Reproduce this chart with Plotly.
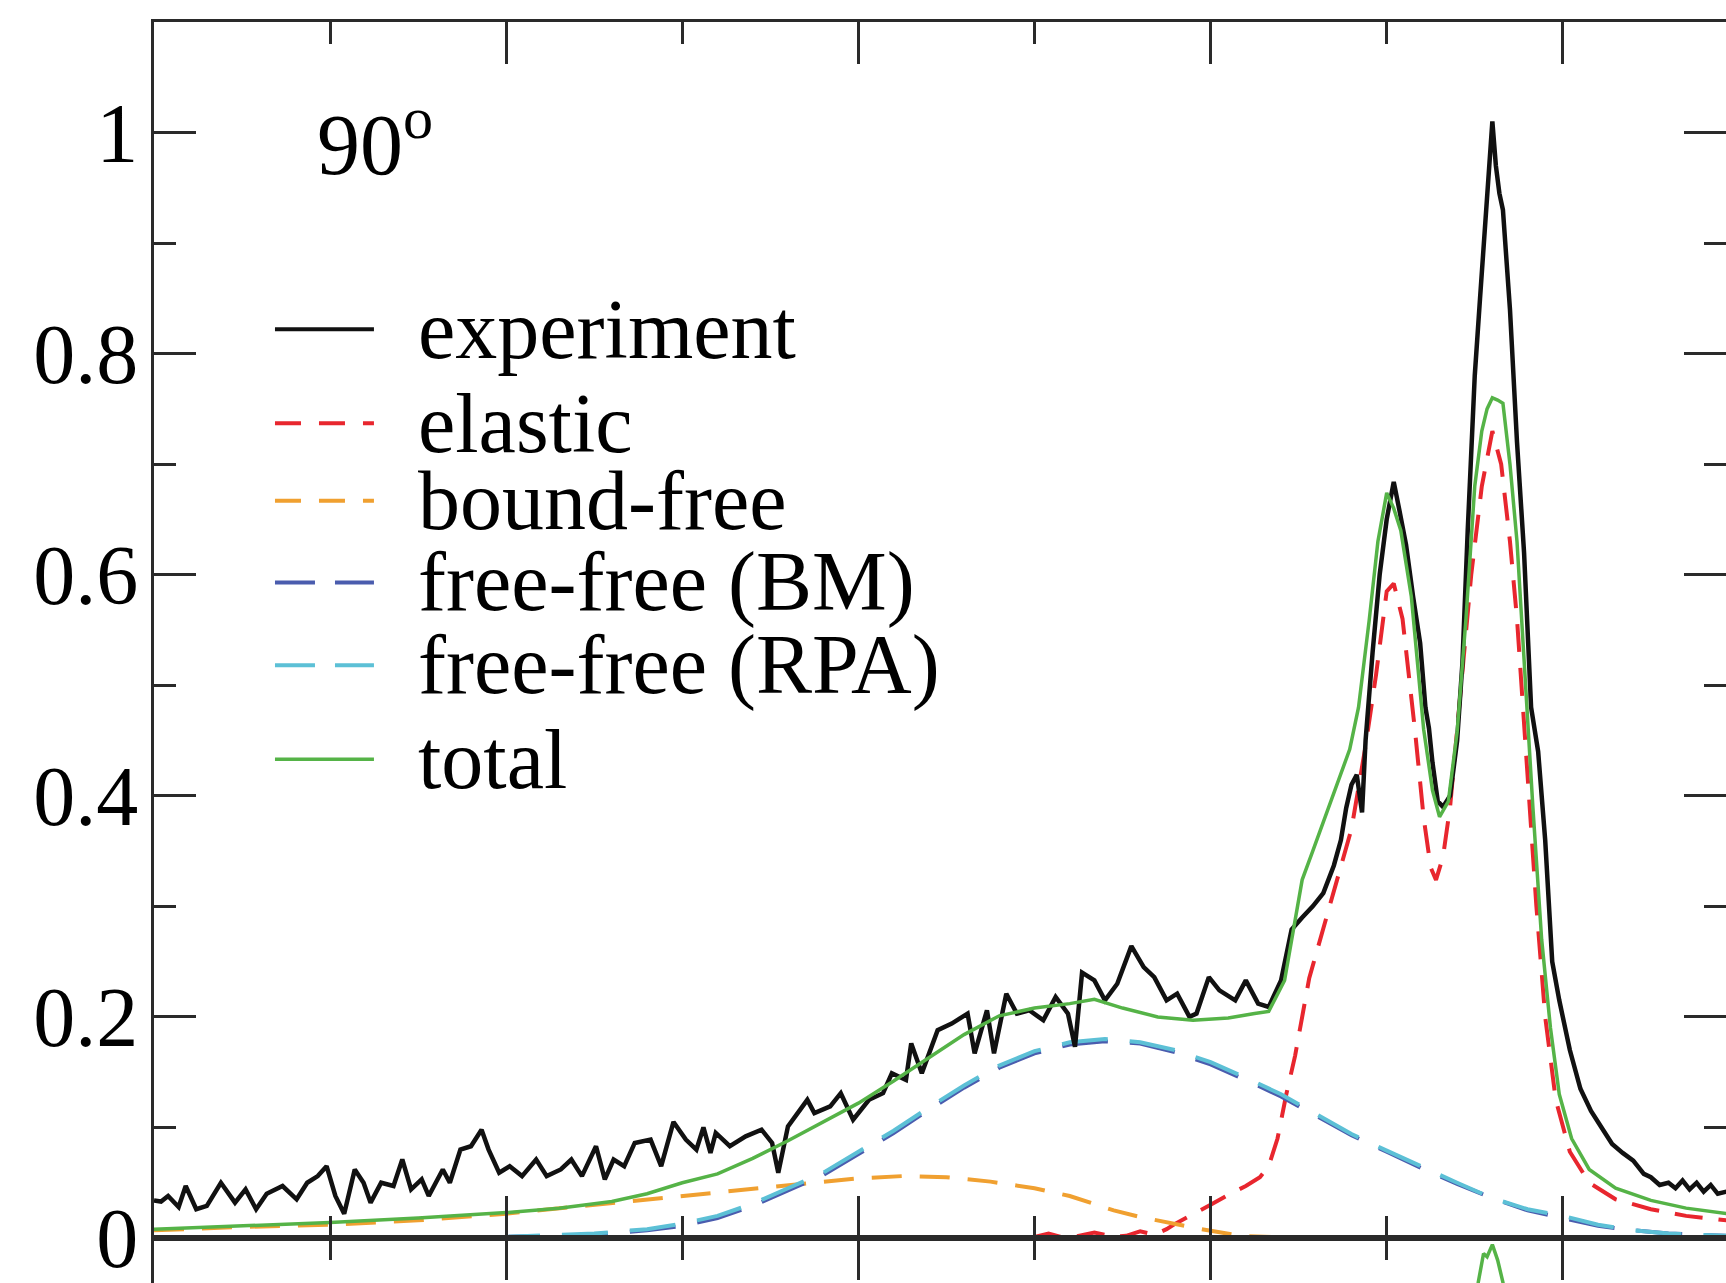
import plotly.graph_objects as go

# experiment (noisy measured curve)
exp_x = [0.00, 0.04, 0.08, 0.14, 0.18, 0.24, 0.30, 0.38, 0.46, 0.52, 0.58, 0.64, 0.73, 0.81, 0.87, 0.93, 0.98,
         1.03, 1.08, 1.14, 1.19, 1.23, 1.29, 1.36, 1.41, 1.46, 1.52, 1.56, 1.64, 1.68, 1.74, 1.80, 1.86, 1.90, 1.96,
         2.02, 2.09, 2.17, 2.23, 2.31, 2.37, 2.43, 2.51, 2.56, 2.61, 2.67, 2.73, 2.82, 2.88, 2.95,
         3.02, 3.08, 3.12, 3.16, 3.19, 3.27, 3.36, 3.45, 3.51, 3.545, 3.60, 3.71, 3.75, 3.84, 3.90, 3.97,
         4.06, 4.14, 4.19, 4.27, 4.30, 4.36, 4.45, 4.53, 4.62, 4.66, 4.73, 4.77, 4.84, 4.90, 4.97,
         5.05, 5.12, 5.19, 5.23, 5.27, 5.34, 5.40, 5.47, 5.55, 5.62, 5.68, 5.75, 5.81, 5.88, 5.92, 5.99,
         6.05, 6.14, 6.20, 6.27, 6.33, 6.40, 6.46, 6.52, 6.58, 6.64, 6.70, 6.74, 6.77, 6.80, 6.83, 6.86, 6.88, 6.92, 6.96,
         7.00, 7.04, 7.07, 7.11, 7.15, 7.19, 7.22, 7.24, 7.26, 7.29, 7.32, 7.36, 7.40, 7.43, 7.46, 7.50, 7.53, 7.56, 7.58,
         7.60, 7.62, 7.64, 7.66, 7.70, 7.74, 7.78, 7.82, 7.86, 7.90, 7.94, 7.98,
         8.04, 8.10, 8.16, 8.22, 8.28, 8.34, 8.40, 8.46, 8.50, 8.55, 8.60, 8.64, 8.68, 8.72, 8.76, 8.80, 8.84, 8.88, 8.93]
exp_y = [0.034, 0.033, 0.038, 0.028, 0.047, 0.026, 0.029, 0.050, 0.032, 0.044, 0.026, 0.040, 0.047, 0.035, 0.050, 0.056, 0.065,
         0.038, 0.022, 0.062, 0.050, 0.032, 0.050, 0.047, 0.071, 0.044, 0.053, 0.038, 0.062, 0.050, 0.080, 0.083, 0.098, 0.080, 0.059,
         0.065, 0.056, 0.071, 0.056, 0.062, 0.071, 0.056, 0.083, 0.053, 0.071, 0.065, 0.086, 0.089, 0.065, 0.105,
         0.089, 0.080, 0.100, 0.077, 0.095, 0.083, 0.092, 0.098, 0.086, 0.059, 0.101, 0.125, 0.113, 0.119, 0.131, 0.107,
         0.125, 0.131, 0.149, 0.143, 0.176, 0.149, 0.188, 0.194, 0.203, 0.167, 0.206, 0.167, 0.221, 0.203, 0.206,
         0.197, 0.218, 0.203, 0.173, 0.240, 0.233, 0.215, 0.230, 0.264, 0.245, 0.236, 0.215, 0.221, 0.200, 0.203, 0.236,
         0.224, 0.215, 0.233, 0.212, 0.209, 0.233, 0.279, 0.290, 0.300, 0.312, 0.337, 0.360, 0.389, 0.410, 0.419, 0.385, 0.450, 0.530, 0.600,
         0.650, 0.684, 0.660, 0.627, 0.580, 0.538, 0.480, 0.461, 0.430, 0.395, 0.390, 0.400, 0.450, 0.520, 0.640, 0.780, 0.850, 0.920, 0.960,
         1.010, 0.970, 0.945, 0.930, 0.840, 0.720, 0.620, 0.480, 0.440, 0.360, 0.250, 0.215,
         0.170, 0.135, 0.115, 0.100, 0.085, 0.077, 0.070, 0.058, 0.055, 0.048, 0.050, 0.045, 0.052, 0.044, 0.050, 0.042, 0.048, 0.040, 0.042]

# elastic
el_x = [0.0, 4.9, 5.0, 5.08, 5.15, 5.22, 5.34, 5.45, 5.52, 5.60, 5.68, 5.75, 5.80, 5.90, 6.00, 6.10, 6.20, 6.28, 6.33,
        6.38, 6.43, 6.48, 6.56, 6.64, 6.72, 6.80, 6.88, 6.94, 7.00, 7.04, 7.09, 7.16, 7.21, 7.25, 7.28, 7.32, 7.36,
        7.42, 7.48, 7.54, 7.60, 7.65, 7.70, 7.74, 7.79, 7.85, 7.90, 7.96, 8.04, 8.15, 8.30, 8.50, 8.70, 8.93]
el_y = [0.0, 0.0, 0.001, 0.004, 0.001, 0.001, 0.005, 0.001, 0.002, 0.006, 0.003, 0.008, 0.013, 0.021, 0.030, 0.039, 0.047, 0.055, 0.065,
        0.090, 0.130, 0.165, 0.235, 0.280, 0.325, 0.370, 0.445, 0.510, 0.585, 0.592, 0.560, 0.460, 0.380, 0.335, 0.324, 0.345, 0.390,
        0.500, 0.600, 0.680, 0.730, 0.700, 0.630, 0.560, 0.440, 0.300, 0.200, 0.125, 0.078, 0.050, 0.035, 0.026, 0.020, 0.016]

# bound-free
bf_x = [0.0, 0.5, 1.0, 1.5, 2.0, 2.5, 3.0, 3.5, 3.8, 4.0, 4.25, 4.5, 4.75, 5.0, 5.2, 5.45, 5.6, 5.75, 5.95, 6.17, 6.4, 7.0, 8.0, 8.93]
bf_y = [0.007, 0.010, 0.012, 0.016, 0.022, 0.030, 0.038, 0.046, 0.051, 0.054, 0.056, 0.055, 0.051, 0.045, 0.038, 0.025, 0.019, 0.014,
        0.008, 0.002, 0.0005, 0.0, 0.0, 0.0]

# free-free, BM and RPA
ff_x = [0.0, 1.0, 2.0, 2.5, 2.8, 3.0, 3.2, 3.4, 3.6, 3.8, 4.0, 4.2, 4.4, 4.6, 4.8, 5.0, 5.2, 5.4, 5.6, 5.8,
        6.0, 6.2, 6.4, 6.6, 6.8, 7.0, 7.2, 7.4, 7.6, 7.8, 8.0, 8.2, 8.4, 8.6, 8.93]
ff_bm = [0.0, 0.0, 0.001, 0.003, 0.007, 0.011, 0.018, 0.029, 0.043, 0.057, 0.076, 0.095, 0.116, 0.136, 0.154, 0.167, 0.175, 0.178, 0.176, 0.168,
         0.157, 0.143, 0.128, 0.110, 0.093, 0.078, 0.063, 0.049, 0.036, 0.025, 0.018, 0.011, 0.007, 0.004, 0.002]
ff_rpa = [0.0, 0.0, 0.001, 0.004, 0.008, 0.013, 0.020, 0.031, 0.045, 0.059, 0.078, 0.097, 0.118, 0.138, 0.156, 0.169, 0.177, 0.180, 0.177, 0.170,
          0.159, 0.145, 0.130, 0.112, 0.094, 0.079, 0.064, 0.050, 0.036, 0.026, 0.020, 0.012, 0.007, 0.004, 0.002]

# total
tot_x = [0.0, 0.5, 1.0, 1.5, 2.0, 2.3, 2.6, 2.8, 3.0, 3.2, 3.4, 3.6, 3.8, 4.0, 4.2, 4.4, 4.6, 4.8, 5.0, 5.2, 5.34, 5.5, 5.7, 5.9,
         6.1, 6.25, 6.33, 6.42, 6.48, 6.52, 6.58, 6.64, 6.72, 6.79, 6.84, 6.90, 6.95, 7.00, 7.04, 7.08, 7.14, 7.21, 7.26, 7.30, 7.35,
         7.40, 7.45, 7.50, 7.54, 7.57, 7.60, 7.63, 7.66, 7.70, 7.74, 7.78, 7.83, 7.88, 7.93, 7.98, 8.05, 8.15, 8.30, 8.50, 8.70, 8.93]
tot_y = [0.008, 0.011, 0.014, 0.018, 0.023, 0.027, 0.033, 0.040, 0.050, 0.058, 0.072, 0.088, 0.105, 0.122, 0.142, 0.163, 0.184, 0.201, 0.208, 0.212, 0.216, 0.208, 0.200, 0.197,
         0.199, 0.203, 0.205, 0.233, 0.290, 0.324, 0.350, 0.376, 0.410, 0.442, 0.480, 0.558, 0.630, 0.674, 0.660, 0.640, 0.580, 0.460, 0.405, 0.381, 0.395,
         0.458, 0.560, 0.680, 0.730, 0.750, 0.760, 0.758, 0.755, 0.700, 0.630, 0.520, 0.390, 0.270, 0.190, 0.130, 0.090, 0.062, 0.045, 0.034, 0.027, 0.022]

# top of the peak of the panel below (cut off by the crop)
low_x = [7.48, 7.52, 7.55, 7.57, 7.60, 7.63, 7.66, 7.70]
low_y = [1.00, 1.06, 1.086, 1.083, 1.094, 1.080, 1.060, 1.00]

names = ['experiment', 'elastic', 'bound-free', 'free-free (BM)', 'free-free (RPA)', 'total']
colors = ['#111111', '#e8262e', '#f0a030', '#4a5cae', '#5cc0d6', '#55b347']
dashes = ['solid', '28px,16px', '30px,18px', '46px,22px', '46px,22px', 'solid']
key_dashes = ['solid', '26px,18px', '26px,18px', '40px,20px', '40px,20px', 'solid']
widths = [4.5, 4, 4, 4, 4, 3.5]

FONT = 'Liberation Serif'
AXC = '#2a2a2a'

fig = go.Figure()
series = [(exp_x, exp_y), (el_x, el_y), (bf_x, bf_y), (ff_x, ff_bm), (ff_x, ff_rpa), (tot_x, tot_y)]
for i in [1, 2, 3, 4, 0, 5]:
    fig.add_trace(go.Scatter(x=series[i][0], y=series[i][1], mode='lines', name=names[i], showlegend=False,
                             line=dict(color=colors[i], width=widths[i], dash=dashes[i])))
fig.add_trace(go.Scatter(x=low_x, y=low_y, mode='lines', xaxis='x2', yaxis='y2', showlegend=False,
                         line=dict(color=colors[5], width=3.5)))

# hand-made key, like the original figure
rows = [0.822, 0.737, 0.667, 0.593, 0.518, 0.433]
for i, name in enumerate(names):
    fig.add_shape(type='line', xref='x', yref='y', x0=0.687, x1=1.249, y0=rows[i], y1=rows[i],
                  line=dict(color=colors[i], width=min(widths[i], 4), dash=key_dashes[i]))
    fig.add_annotation(x=1.487, y=rows[i], xref='x', yref='y', text=name, showarrow=False,
                       xanchor='left', yanchor='middle', font=dict(family=FONT, size=84, color='black'))
fig.add_annotation(x=0.915, y=0.995, xref='x', yref='y', text='90<sup>o</sup>', showarrow=False,
                   xanchor='left', yanchor='middle', font=dict(family=FONT, size=86, color='black'))

xr = [0, (1726 - 154) / 176.1]
tick = dict(ticks='inside', tickwidth=3, tickcolor=AXC, showline=True, linewidth=3, linecolor=AXC,
            showgrid=False, zeroline=False, automargin=False)
fig.update_layout(
    width=1726, height=1283,
    margin=dict(l=154, r=0, t=22, b=0, autoexpand=False),
    paper_bgcolor='white', plot_bgcolor='white',
    xaxis=dict(domain=[0, 1], range=xr, anchor='y', mirror='allticks', ticklen=42, dtick=2, tick0=0,
               showticklabels=False, minor=dict(ticks='inside', ticklen=22, dtick=1, tickwidth=3, tickcolor=AXC), **tick),
    yaxis=dict(domain=[45 / 1261, 1], range=[0, 1.1], anchor='x', mirror='allticks', ticklen=42, dtick=0.2, tick0=0,
               tickfont=dict(family=FONT, size=84, color='black'), ticklabelstandoff=-4, ticklabeloverflow='allow',
               minor=dict(ticks='inside', ticklen=22, dtick=0.1, tickwidth=3, tickcolor=AXC), **tick),
    xaxis2=dict(domain=[0, 1], range=xr, anchor='y2', side='top', ticklen=42, dtick=2, tick0=0,
                showticklabels=False, minor=dict(ticks='inside', ticklen=22, dtick=1, tickwidth=3, tickcolor=AXC), **tick),
    yaxis2=dict(domain=[0, 45 / 1261], range=[1.0593, 1.1], anchor='x2', showline=True, linewidth=3, linecolor=AXC,
                ticks='', showticklabels=False, showgrid=False, zeroline=False, automargin=False),
)

fig.write_html('out.html', config={'displayModeBar': False}, post_script="document.body.style.margin='0';")
